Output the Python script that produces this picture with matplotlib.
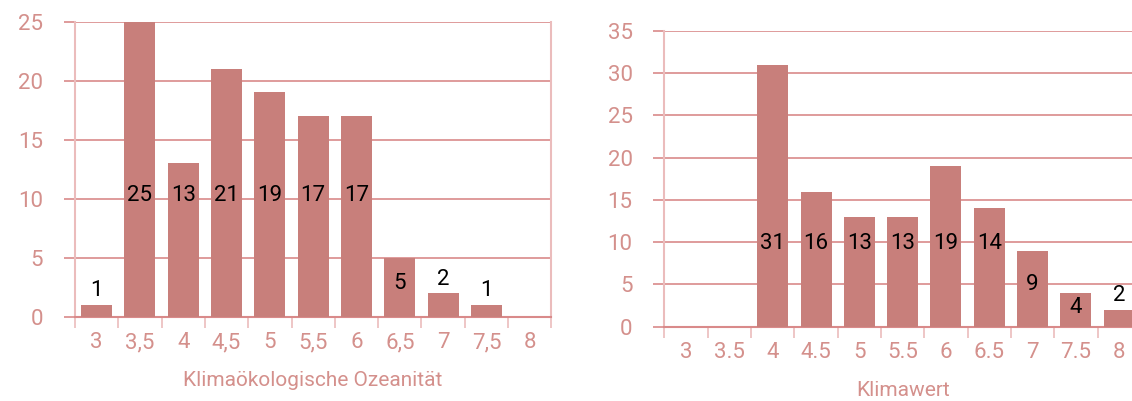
import matplotlib
matplotlib.use("Agg")
import matplotlib.pyplot as plt
from matplotlib.ticker import FixedLocator
import numpy as np

plt.rcParams['font.family'] = ['Roboto', 'Liberation Sans', 'DejaVu Sans']

# Data
left_labels = ["3", "3,5", "4", "4,5", "5", "5,5", "6", "6,5", "7", "7,5", "8"]
left_values = [1, 25, 13, 21, 19, 17, 17, 5, 2, 1, 0]
left_title = "Klimaökologische Ozeanität"

right_labels = ["3", "3.5", "4", "4.5", "5", "5.5", "6", "6.5", "7", "7.5", "8"]
right_values = [0, 0, 31, 16, 13, 13, 19, 14, 9, 4, 2]
right_title = "Klimawert"

BAR = "#c87f7b"
GRID = "#d98a8a"
SPINE = "#ebbcbc"
TXT = "#d4908c"

fig = plt.figure(figsize=(11.32, 4.01), dpi=100)


def draw(ax, labels, values, ymax, xlabel, cap):
    n = len(labels)
    x = np.arange(n)
    ax.set_xlim(-0.5, n - 0.5)
    ax.set_ylim(0, ymax)
    ax.set_yticks(np.arange(0, ymax + 1, 5))
    ax.yaxis.grid(True, color=GRID, linewidth=1.2)
    ax.set_axisbelow(True)
    ax.bar(x, values, width=0.715, color=BAR, zorder=3)
    for xi, v in zip(x, values):
        if v == 0:
            continue
        if v > 10:
            y, va = cap, "center"
        elif v >= 4:
            y, va = v * 0.56, "center"
        else:
            y, va = v + 0.3 * (ymax / 25), "bottom"
        ax.text(xi, y, str(v), ha="center", va=va, fontsize=16, color="black", zorder=4)
    ax.set_xticks(x)
    ax.set_xticklabels(labels)
    ax.xaxis.set_minor_locator(FixedLocator(np.arange(-0.5, n, 1.0)))
    ax.tick_params(axis="x", which="major", length=0, pad=11, labelsize=16, labelcolor=TXT)
    ax.tick_params(axis="x", which="minor", length=8, width=1.2, color=SPINE)
    ax.tick_params(axis="y", length=8, width=1.2, color=GRID, labelsize=16, labelcolor=TXT, pad=15)
    for s in ["left", "right", "bottom"]:
        ax.spines[s].set_color(SPINE)
        ax.spines[s].set_linewidth(1.5)
    ax.spines["bottom"].set_color(GRID)
    ax.spines["top"].set_visible(False)
    ax.set_xlabel(xlabel, fontsize=15, color=TXT, labelpad=13)


ax1 = fig.add_axes([0.06625, 0.2102, 0.4208, 0.7357])
draw(ax1, left_labels, left_values, 25, left_title, 10.3)

ax2 = fig.add_axes([0.5870, 0.1853, 0.4208, 0.7374])
draw(ax2, right_labels, right_values, 35, right_title, 9.8)

fig.savefig("out.png", dpi=100)
